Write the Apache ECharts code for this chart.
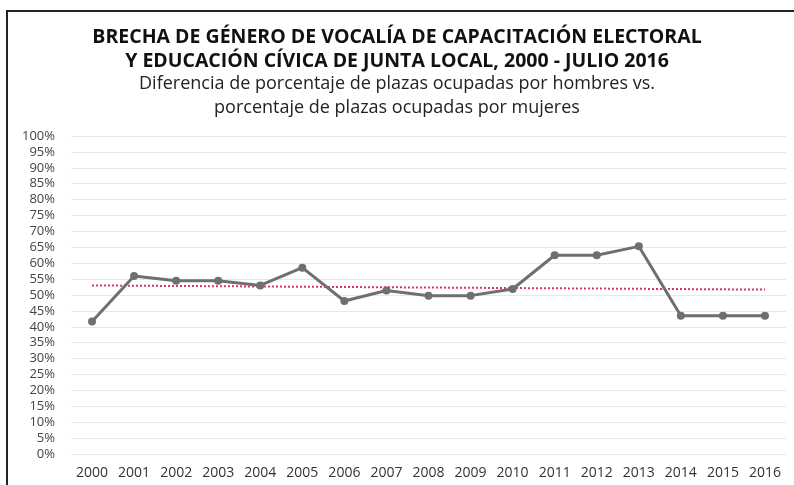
<!DOCTYPE html>
<html>
<head>
<meta charset="utf-8">
<script src="https://cdn.jsdelivr.net/npm/echarts@6/dist/echarts.min.js"></script>
<style>
  html, body { margin: 0; padding: 0; background: #fff; }
  #main { width: 794px; height: 485px; }
</style>
</head>
<body>
<div id="main"></div>
<script>
// datos
var years = ['2000', '2001', '2002', '2003', '2004', '2005', '2006', '2007', '2008',
  '2009', '2010', '2011', '2012', '2013', '2014', '2015', '2016'];
var brecha = [41.7, 56.0, 54.5, 54.5, 53.0, 58.6, 48.1, 51.4, 49.8,
  49.8, 51.9, 62.5, 62.5, 65.3, 43.5, 43.5, 43.5];
// línea de tendencia (inicio y fin)
var tendencia = [53.0, 51.7];
var yTicks = { min: 0, max: 100, interval: 5 };

var titulo = 'BRECHA DE GÉNERO DE VOCALÍA DE CAPACITACIÓN ELECTORAL\nY EDUCACIÓN CÍVICA DE JUNTA LOCAL, 2000 - JULIO 2016';
var subtitulo = 'Diferencia de porcentaje de plazas ocupadas por hombres vs.\nporcentaje de plazas ocupadas por mujeres';

var chartDom = document.getElementById('main');
var myChart = echarts.init(chartDom);
var fuente = '"Open Sans", "Noto Sans", sans-serif';

var option = {
  backgroundColor: '#fff',
  title: [
    {
      text: titulo,
      left: 'center',
      top: 20,
      textStyle: { fontFamily: fuente, fontSize: 19.5, fontWeight: 'bold', color: '#111', lineHeight: 24 }
    },
    {
      text: subtitulo,
      left: 'center',
      top: 67,
      textStyle: { fontFamily: fuente, fontSize: 18, fontWeight: 'normal', color: '#222', lineHeight: 24 }
    }
  ],
  graphic: [
    {
      type: 'polyline',
      shape: { points: [[7, 500], [7, 11], [800, 11]] },
      style: { stroke: '#222', lineWidth: 2, fill: null },
      silent: true
    }
  ],
  grid: { left: 71, right: 8, top: 136, bottom: 31 },
  xAxis: {
    type: 'category',
    data: years,
    boundaryGap: true,
    axisLine: { show: false },
    axisTick: { show: false },
    axisLabel: { interval: 0, margin: 12, fontFamily: fuente, fontSize: 14, color: '#333' }
  },
  yAxis: {
    type: 'value',
    min: yTicks.min,
    max: yTicks.max,
    interval: yTicks.interval,
    axisLine: { show: false },
    axisTick: { show: false },
    splitLine: { lineStyle: { color: '#e8e8e8', width: 1 } },
    axisLabel: { margin: 16, fontFamily: fuente, fontSize: 13, color: '#444', formatter: '{value}%' }
  },
  series: [
    {
      name: 'Brecha',
      type: 'line',
      data: brecha,
      symbol: 'circle',
      symbolSize: 8,
      lineStyle: { color: '#6f6f6f', width: 3 },
      itemStyle: { color: '#6f6f6f' },
      z: 3
    },
    {
      name: 'Tendencia',
      type: 'line',
      data: [[0, tendencia[0]], [years.length - 1, tendencia[1]]],
      symbol: 'none',
      lineStyle: { color: '#e0306e', width: 2, type: [2, 2] },
      z: 2
    }
  ]
};
option && myChart.setOption(option);
</script>
</body>
</html>
